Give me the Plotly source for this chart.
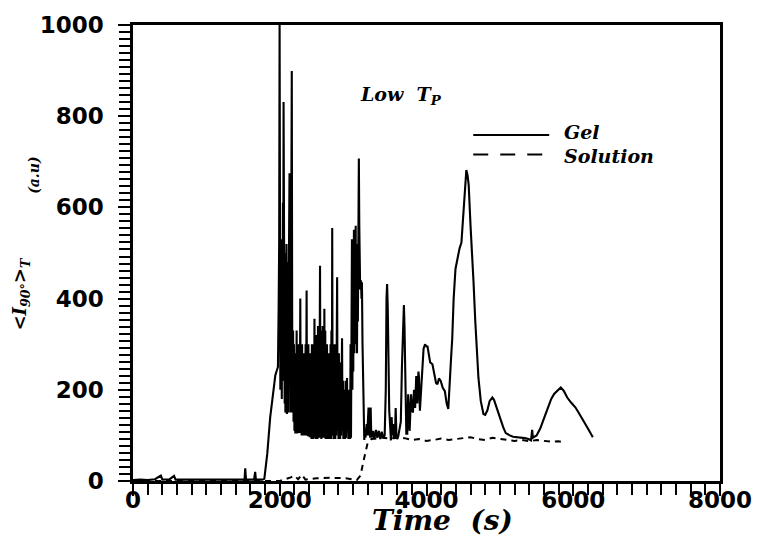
import plotly.graph_objects as go

# ---------------- data ----------------
GEL_T = [0, 100, 200, 300, 380, 400, 500, 560, 580, 700, 800, 900, 1000, 1100, 1200,
         1300, 1400, 1500, 1520, 1530, 1540, 1650, 1665, 1675, 1760, 1790, 1830, 1870,
         1910, 1940, 1965, 1975, 1985, 1992, 1998, 2003, 2008, 2013, 2018, 2023, 2028,
         2033, 2038, 2043, 2048, 2052, 2057, 2062, 2067, 2072, 2077, 2082, 2087, 2092,
         2097, 2102, 2107, 2112, 2117, 2122, 2128, 2133, 2138, 2143, 2148, 2153, 2158,
         2164, 2170, 2176, 2182, 2188, 2194, 2200, 2206, 2212, 2218, 2224, 2230, 2236,
         2242, 2248, 2254, 2260, 2266, 2272, 2280, 2286, 2292, 2298, 2304, 2310, 2316,
         2322, 2328, 2334, 2340, 2346, 2352, 2358, 2366, 2372, 2378, 2384, 2390, 2396,
         2402, 2408, 2414, 2420, 2426, 2432, 2438, 2444, 2450, 2456, 2462, 2468, 2473,
         2479, 2485, 2491, 2497, 2503, 2509, 2515, 2521, 2527, 2533, 2539, 2545, 2549,
         2555, 2561, 2567, 2573, 2579, 2585, 2591, 2597, 2603, 2608, 2614, 2620, 2626,
         2632, 2638, 2644, 2650, 2656, 2662, 2668, 2674, 2680, 2686, 2692, 2698, 2704,
         2710, 2715, 2721, 2727, 2733, 2739, 2745, 2751, 2757, 2763, 2769, 2775, 2782,
         2788, 2794, 2800, 2806, 2812, 2818, 2824, 2830, 2836, 2842, 2849, 2855, 2861,
         2867, 2873, 2879, 2885, 2891, 2897, 2903, 2909, 2917, 2923, 2929, 2935, 2941,
         2947, 2953, 2959, 2965, 2971, 2977, 2984, 2990, 2996, 3002, 3011, 3017, 3023,
         3029, 3035, 3041, 3047, 3053, 3059, 3065, 3072, 3078, 3084, 3090, 3096, 3102,
         3108, 3114, 3120, 3128, 3136, 3145, 3152, 3160, 3168, 3176, 3185, 3192, 3200,
         3210, 3218, 3226, 3232, 3239, 3246, 3254, 3270, 3290, 3310, 3330, 3350, 3370,
         3390, 3410, 3430, 3445, 3455, 3463, 3472, 3480, 3492, 3505, 3515, 3525, 3535,
         3545, 3555, 3570, 3580, 3590, 3600, 3615, 3630, 3650, 3665, 3680, 3692, 3700,
         3712, 3725, 3738, 3750, 3760, 3770, 3780, 3790, 3800, 3815, 3830, 3845, 3860,
         3875, 3890, 3898, 3910, 3925, 3940, 3960, 3980, 4000, 4014, 4030, 4050, 4081,
         4110, 4130, 4149, 4170, 4195, 4220, 4250, 4275, 4297, 4315, 4335, 4351, 4370,
         4395, 4420, 4450, 4476, 4500, 4520, 4543, 4560, 4575, 4600, 4620, 4641, 4665,
         4685, 4708, 4740, 4776, 4800, 4830, 4860, 4897, 4920, 4955, 4990, 5020, 5045,
         5080, 5110, 5134, 5180, 5230, 5291, 5340, 5390, 5425, 5440, 5450, 5500, 5550,
         5605, 5650, 5700, 5739, 5790, 5829, 5870, 5918, 5970, 6031, 6080, 6142, 6200,
         6267]
GEL_I = [2, 3, 2, 4, 12, 3, 4, 11, 3, 3, 2, 3, 2, 3, 2,
         3, 2, 3, 3, 28, 3, 3, 20, 3, 3, 5, 60, 140,
         200, 232, 245, 250, 380, 520, 1000, 420, 200, 530, 240, 480, 180,
         500, 220, 610, 400, 831, 300, 470, 170, 500, 150, 450, 160, 520,
         147, 420, 160, 480, 150, 400, 560, 675, 250, 450, 150, 520, 700,
         899, 300, 150, 330, 130, 300, 110, 260, 104, 280, 110, 330, 104,
         250, 110, 300, 105, 230, 110, 400, 105, 260, 100, 300, 110, 240,
         100, 280, 105, 220, 100, 300, 110, 418, 100, 250, 98, 300, 100,
         230, 96, 280, 100, 220, 92, 300, 100, 260, 92, 300, 110, 356,
         95, 260, 92, 320, 100, 250, 92, 340, 100, 300, 95, 380, 472,
         120, 330, 92, 300, 100, 340, 95, 300, 110, 378, 95, 330, 92,
         250, 95, 300, 92, 230, 100, 280, 92, 250, 100, 300, 92, 330,
         100, 555, 110, 280, 92, 300, 95, 260, 92, 300, 100, 350, 447,
         110, 260, 92, 280, 95, 230, 92, 260, 100, 280, 313, 110, 220,
         92, 200, 95, 180, 92, 220, 95, 200, 226, 110, 180, 92, 200,
         95, 170, 92, 300, 95, 400, 530, 200, 400, 240, 551, 280, 500,
         300, 560, 320, 480, 280, 520, 350, 650, 707, 560, 460, 420, 440,
         436, 400, 436, 300, 200, 125, 90, 115, 95, 110, 125, 100, 130,
         161, 100, 120, 95, 161, 108, 95, 110, 92, 112, 95, 110, 92,
         108, 95, 100, 200, 400, 432, 380, 256, 154, 120, 89, 140, 100,
         125, 92, 100, 160, 100, 92, 98, 110, 130, 250, 370, 386, 340,
         197, 104, 104, 190, 160, 110, 150, 190, 160, 150, 200, 160, 230,
         170, 240, 226, 154, 200, 250, 290, 300, 295, 295, 280, 260, 256,
         230, 215, 212, 225, 219, 205, 197, 170, 158, 200, 270, 313, 400,
         465, 490, 510, 523, 580, 650, 682, 670, 649, 560, 480, 436, 350,
         280, 226, 175, 147, 145, 155, 175, 183, 178, 161, 140, 125, 118,
         105, 102, 100, 97, 96, 96, 94, 92, 89, 112, 95, 100, 115,
         139, 160, 180, 191, 200, 205, 198, 183, 172, 161, 148, 132, 115,
         96]

SOL_T = [0, 1000, 2000, 2150, 2200, 2250, 2300, 2350, 2500, 2700, 2900, 3050,
         3100, 3150, 3200, 3250, 3400, 3500, 3600, 3700, 3800, 3900, 4000, 4100,
         4200, 4300, 4400, 4500, 4600, 4700, 4800, 4900, 5000, 5100, 5200, 5300,
         5400, 5500, 5600, 5700, 5800, 5880]
SOL_I = [0, 0, 0, 8, 12, 4, 14, 3, 6, 7, 6, 2,
         12, 50, 85, 92, 95, 93, 95, 94, 90, 92, 88, 90,
         93, 90, 92, 94, 96, 92, 90, 95, 92, 90, 88, 90,
         87, 90, 88, 86, 87, 85]

X_MAJOR_STEP = 2000
Y_MAJOR_STEP = 200

# ---------------- figure ----------------
fig = go.Figure()
fig.add_trace(go.Scatter(x=GEL_T, y=GEL_I, mode="lines", name="Gel",
                         line=dict(color="black", width=2.1), showlegend=False))
fig.add_trace(go.Scatter(x=SOL_T, y=SOL_I, mode="lines", name="Solution",
                         line=dict(color="black", width=2, dash="6px,5px"),
                         showlegend=False))

tick_font = dict(family="DejaVu Sans", size=23, color="black", weight="bold")
serif_bi = dict(family="DejaVu Serif", color="black", weight="bold", style="italic")

fig.update_layout(
    width=764, height=542,
    margin=dict(l=133, r=36, t=20, b=61),
    paper_bgcolor="white", plot_bgcolor="white",
    showlegend=False,
    xaxis=dict(range=[0, 8000], tickmode="linear", tick0=0, dtick=X_MAJOR_STEP,
               ticks="outside", ticklen=12, tickwidth=2, tickcolor="black",
               ticklabelstandoff=-15,
               showline=True, linewidth=2.5, linecolor="black", mirror=True,
               showgrid=False, zeroline=False, tickfont=tick_font,
               minor=dict(tick0=0, dtick=X_MAJOR_STEP / 10, ticks="outside", ticklen=11,
                          tickwidth=2, tickcolor="black", showgrid=False)),
    yaxis=dict(range=[0, 1000], tickmode="linear", tick0=0, dtick=Y_MAJOR_STEP,
               ticks="outside", ticklen=12, tickwidth=2, tickcolor="black",
               ticklabelstandoff=10,
               showline=True, linewidth=2.5, linecolor="black", mirror=True,
               showgrid=False, zeroline=False, tickfont=tick_font,
               minor=dict(tick0=0, dtick=Y_MAJOR_STEP / 13, ticks="outside", ticklen=11,
                          tickwidth=1.7, tickcolor="black", showgrid=False)),
)

annotations = [
    dict(text="Time  (s)", x=0.527, y=-0.128, xref="paper", yref="paper",
         showarrow=False, xanchor="center", yanchor="bottom",
         font=dict(size=28, **serif_bi)),
    dict(text="&lt;I<sub>90°</sub>&gt;<sub>T</sub>", x=-0.19, y=0.41,
         xref="paper", yref="paper", showarrow=False, textangle=-90,
         xanchor="center", yanchor="middle", font=dict(size=18, **serif_bi)),
    dict(text="(a.u)", x=-0.168, y=0.67, xref="paper", yref="paper",
         showarrow=False, textangle=-90, xanchor="center", yanchor="middle",
         font=dict(size=14, **serif_bi)),
    dict(text="Low  T<sub>P</sub>", x=3656, y=846, xref="x", yref="y",
         showarrow=False, xanchor="center", yanchor="middle",
         font=dict(size=19, **serif_bi)),
    dict(text="Gel", x=5847, y=765, xref="x", yref="y", showarrow=False,
         xanchor="left", yanchor="middle", font=dict(size=19, **serif_bi)),
    dict(text="Solution", x=5847, y=712, xref="x", yref="y", showarrow=False,
         xanchor="left", yanchor="middle", font=dict(size=19, **serif_bi)),
]
fig.update_layout(annotations=annotations)

shapes = [
    dict(type="line", x0=4637, x1=5672, y0=759, y1=759, xref="x", yref="y",
         line=dict(color="black", width=2)),
    dict(type="line", x0=4637, x1=5605, y0=716, y1=716, xref="x", yref="y",
         line=dict(color="black", width=2, dash="15px,12px")),
]
fig.update_layout(shapes=shapes)

fig.write_html("out.html")
